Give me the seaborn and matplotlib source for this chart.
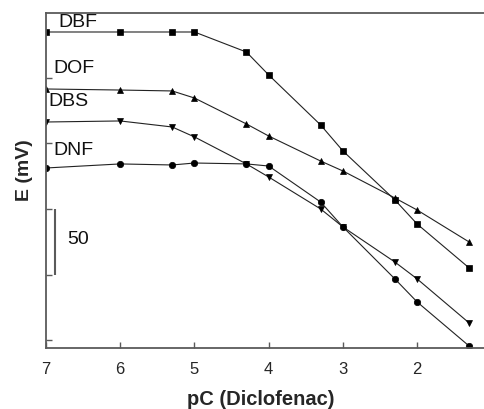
import matplotlib
matplotlib.use("Agg")
import matplotlib.pyplot as plt
import seaborn as sns
import pandas as pd

# ---- data ----
pC = [7, 6, 5.3, 5, 4.3, 4, 3.3, 3, 2.3, 2, 1.3]
E_DBF = [235.1, 235.1, 235.1, 235.1, 219.8, 202.3, 164.1, 144.3, 106.9, 88.5, 55.0]
E_DOF = [191.6, 190.8, 190.1, 184.7, 164.9, 155.7, 136.6, 129.0, 108.4, 99.2, 74.8]
E_DBS = [166.4, 167.2, 162.6, 155.0, 134.4, 124.4, 100.0, 86.3, 59.5, 46.6, 13.0]
E_DNF = [131.3, 134.4, 133.6, 135.1, 134.4, 132.8, 105.3, 86.3, 46.6, 29.0, -4.6]
series_names = ["DBF", "DOF", "DBS", "DNF"]
x_ticks = [7, 6, 5, 4, 3, 2]
x_ticklabels = ["7", "6", "5", "4", "3", "2"]
y_ticks = [0, 50, 100, 150, 200]
scale_value = "50"

rows = []
for name, vals in zip(series_names, [E_DBF, E_DOF, E_DBS, E_DNF]):
    for x, y in zip(pC, vals):
        rows.append({"pC": x, "E": y, "series": name})
df = pd.DataFrame(rows)

sns.set_style("ticks")
plt.rcParams["font.family"] = ["Liberation Sans", "DejaVu Sans"]

fig = plt.figure(figsize=(4.84, 4.09), dpi=100)
ax = fig.add_axes([46 / 484, 61 / 409, 438 / 484, 335 / 409])

sns.lineplot(data=df, x="pC", y="E", hue="series", style="series",
             markers={"DBF": "s", "DOF": "^", "DBS": "v", "DNF": "o"},
             dashes=False, palette={n: "#222222" for n in series_names},
             estimator=None, sort=False, legend=False, ax=ax,
             linewidth=0.8, markersize=4.6)
for line in ax.lines:
    line.set_markerfacecolor("black")
    line.set_markeredgecolor("black")
    line.set_markeredgewidth(0.5)

ax.set_xlim(7, 1.1)
ax.set_ylim(-6.1, 249.6)
ax.set_xticks(x_ticks)
ax.set_xticklabels(x_ticklabels)
ax.set_yticks(y_ticks)
ax.set_yticklabels([])

spine_c = "#5a5a5a"
for s in ["left", "bottom", "top"]:
    ax.spines[s].set_color(spine_c)
    ax.spines[s].set_linewidth(1.3)
ax.spines["right"].set_visible(False)
ax.tick_params(axis="both", direction="in", length=4, width=1.0,
               color=spine_c, labelsize=12, pad=10)
ax.tick_params(axis="y", pad=2)

ax.set_xlabel("pC (Diclofenac)", fontsize=14.5, fontweight="bold")
ax.set_ylabel("E (mV)", fontsize=14, fontweight="bold")
ax.xaxis.set_label_coords(0.491, -0.125)
ax.yaxis.set_label_coords(-0.03, 0.531)

# series labels
label_pos = {"DBF": (6.84, 242.7), "DOF": (6.906, 207.6),
             "DBS": (6.973, 181.7), "DNF": (6.906, 145.0)}
for name in series_names:
    x, y = label_pos[name]
    ax.text(x, y, name, fontsize=14, ha="left", va="center", color="#111111")

# 50 mV scale bar
ax.plot([6.879, 6.879], [50, 100], color=spine_c, linewidth=1.5, solid_capstyle="butt")
ax.text(6.72, 77, scale_value, fontsize=14, ha="left", va="center", color="#111111")

fig.savefig("out.png", dpi=100)
